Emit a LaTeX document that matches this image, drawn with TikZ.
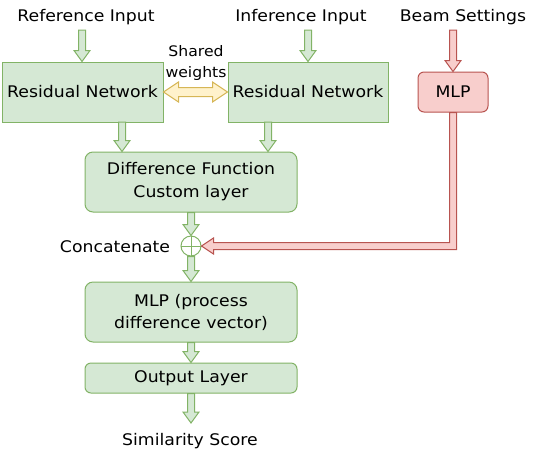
\documentclass[tikz,border=0pt]{standalone}
\usepackage{fontspec}
\setmainfont[FakeStretch=1.08]{DejaVu Sans}
\usetikzlibrary{calc}
\definecolor{gf}{HTML}{D5E8D4}
\definecolor{gs}{HTML}{82B366}
\definecolor{rf}{HTML}{F8CECC}
\definecolor{rs}{HTML}{B85450}
\definecolor{yf}{HTML}{FFF2CC}
\definecolor{ys}{HTML}{D6B656}
\tikzset{
  x=1pt, y=-1pt,
  txt/.style={font=\fontsize{16}{21}\selectfont, inner sep=0pt},
  gbox/.style={draw=gs, fill=gf, line width=1pt, inner sep=0pt, align=center,
    font=\fontsize{16}{23}\selectfont},
  rbox/.style={draw=rs, fill=rf, line width=1pt, inner sep=0pt, align=center,
    rounded corners=6pt, font=\fontsize{16}{23}\selectfont},
  blk/.style={to path={let \p1=(\tikztostart), \p2=(\tikztotarget) in
    ($(\p1)!3.5pt!90:(\p2)$) -- ($(\p2)!11pt!(\p1)!3.5pt!90:(\p2)$)
    -- ($(\p2)!11pt!(\p1)!8pt!90:(\p2)$) -- (\p2)
    -- ($(\p2)!11pt!(\p1)!8pt!-90:(\p2)$) -- ($(\p2)!11pt!(\p1)!3.5pt!-90:(\p2)$)
    -- ($(\p1)!3.5pt!-90:(\p2)$) -- cycle}},
  garrow/.style={draw=gs, fill=gf, line width=1pt, blk},
  rarrow/.style={draw=rs, fill=rf, line width=1pt, line join=miter},
  yarrow/.style={draw=ys, fill=yf, line width=1pt},
}
\begin{document}
\begin{tikzpicture}
\useasboundingbox (0,0) rectangle (540,456);
% texts
\node[txt] (tin1) at (86,17) {Reference Input};
\node[txt] (tin2) at (301,17) {Inference Input};
\node[txt] (tin3) at (463,17) {Beam Settings};
\node[txt, font=\fontsize{14.5}{21}\selectfont, align=center] (sw) at (196,63) {Shared\\weights};
\node[txt] (cat) at (115,247) {Concatenate};
\node[txt] (sim) at (190,441) {Similarity Score};
% boxes
\node[gbox, minimum width=161pt, minimum height=60pt] (ri1) at (82.5,92) {Residual Network};
\node[gbox, minimum width=160pt, minimum height=60pt] (ri2) at (308,92) {Residual Network};
\node[rbox, minimum width=70pt, minimum height=40pt] (mlpr) at (453,92) {MLP};
\node[gbox, rounded corners=8pt, minimum width=212pt, minimum height=60pt] (df) at (191,182) {Difference Function\\Custom layer};
\node[draw=gs, fill=white, line width=1pt, circle, minimum size=20pt, inner sep=0pt] (cc) at (191,246) {};
\draw[gs, line width=1pt] (cc.north) -- (cc.south) (cc.west) -- (cc.east);
\node[gbox, rounded corners=8pt, minimum width=212pt, minimum height=60pt, font=\fontsize{16}{22}\selectfont] (mlp2) at (191,312) {MLP (process\\difference vector)};
\node[gbox, rounded corners=6pt, minimum width=212pt, minimum height=30pt] (out) at (191,378) {Output Layer};
% free ends
\coordinate (a1) at (82,30);
\coordinate (a2) at (308,30);
\coordinate (a3) at (453,30);
\coordinate (b1) at (122,122);
\coordinate (b2) at (268,122);
\coordinate (e1) at (191,423);
% green arrows
\path[garrow] (a1) to (ri1.north -| a1);
\path[garrow] (a2) to (ri2.north);
\path[garrow] (b1) to (b1 |- df.north);
\path[garrow] (b2) to (b2 |- df.north);
\path[garrow] (df.south) to (cc.north);
\path[garrow] (cc.south) to (mlp2.north);
\path[garrow] (mlp2.south) to (out.north);
\path[garrow] (out.south) to (e1);
% red arrows
\path[draw=rs, fill=rf, line width=1pt, blk] (a3) to (mlpr.north);
\path[rarrow] let \p1=(mlpr.south), \p2=(cc.east) in
  (\x1-3.5pt,\y1) -- (\x1-3.5pt,\y2+3.5pt) -- (\x2+12pt,\y2+3.5pt) -- (\x2+12pt,\y2+8pt)
  -- (\p2) -- (\x2+12pt,\y2-8pt) -- (\x2+12pt,\y2-3.5pt) -- (\x1+3.5pt,\y2-3.5pt)
  -- (\x1+3.5pt,\y1) -- cycle;
% yellow double arrow
\path[yarrow] let \p1=(ri1.east), \p2=(ri2.west) in
  (\p1) -- (\x1+15pt,\y1+10pt) -- (\x1+15pt,\y1+4.5pt) -- (\x2-15pt,\y1+4.5pt)
  -- (\x2-15pt,\y1+10pt) -- (\p2) -- (\x2-15pt,\y1-10pt) -- (\x2-15pt,\y1-4.5pt)
  -- (\x1+15pt,\y1-4.5pt) -- (\x1+15pt,\y1-10pt) -- cycle;
\end{tikzpicture}
\end{document}
